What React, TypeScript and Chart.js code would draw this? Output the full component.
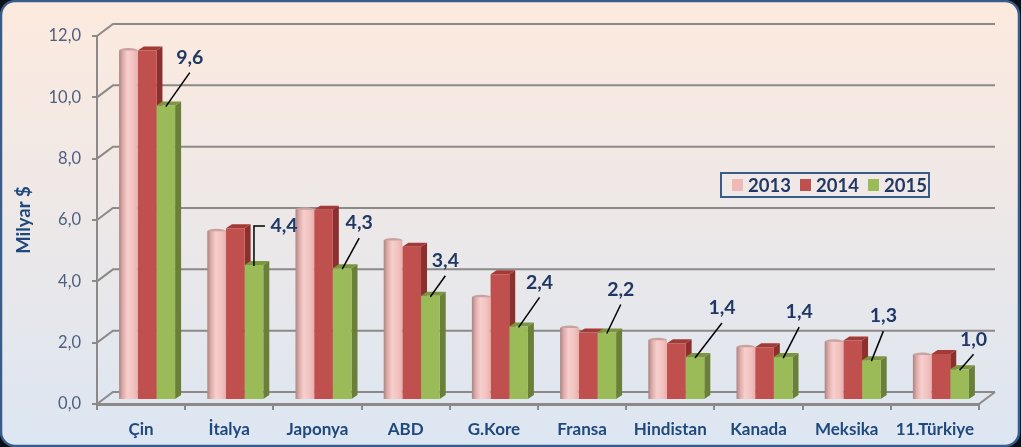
import React, { useEffect, useRef } from "react";
import { Chart, registerables } from "chart.js";

Chart.register(...registerables);

const categories = ["Çin", "İtalya", "Japonya", "ABD", "G.Kore", "Fransa", "Hindistan", "Kanada", "Meksika", "11.Türkiye"];
const series2013 = [11.4, 5.5, 6.2, 5.2, 3.35, 2.35, 1.95, 1.72, 1.9, 1.47];
const series2014 = [11.4, 5.6, 6.2, 5.0, 4.1, 2.2, 1.85, 1.72, 1.94, 1.5];
const series2015 = [9.6, 4.4, 4.3, 3.4, 2.4, 2.2, 1.4, 1.4, 1.3, 1.0];
const seriesNames = ["2013", "2014", "2015"];
const valueLabels = ["9,6", "4,4", "4,3", "3,4", "2,4", "2,2", "1,4", "1,4", "1,3", "1,0"];

// leader-line layout for each green bar label: label centre relative to bar top centre
const labelDx = [24, 30, 17, 15, 21, 14, 27, 16, 12, 14];
const labelDy = [-48, -39, -45, -35, -44, -43, -49, -45, -44, -30];

const NAVY = "#1f3864";
const AXIS_BLUE = "#1f497d";
const GRID = "#8c8a88";
const DX = 16, DY = 12; // depth of the back wall
const BX = 6, BY = 4; // offset of the bar plane
const BD = 6, BU = 4; // depth of a bar

const sideColors = ["#b58e8c", "#8c2f2d", "#6a7f37"];
const topColors = ["#c9a19f", "#a23a37", "#7d9441"];
const frontColors = ["#efb9b7", "#c0504d", "#9bbb59"];

const pinkGrad = (ctx: CanvasRenderingContext2D, l: number, r: number) => {
  const g = ctx.createLinearGradient(l, 0, r, 0);
  g.addColorStop(0, "#a98483");
  g.addColorStop(0.2, "#deabaa");
  g.addColorStop(0.45, "#f6cfcd");
  g.addColorStop(0.8, "#f2c0be");
  g.addColorStop(1, "#e6b0ae");
  return g;
};

const scene = {
  id: "scene",
  beforeDraw(chart: any) {
    const { ctx, width, height } = chart;
    ctx.save();
    ctx.fillStyle = "#0a0f1a";
    ctx.fillRect(0, 0, width, height);
    const g = ctx.createLinearGradient(0, 0, 0, height);
    g.addColorStop(0, "#fdeade");
    g.addColorStop(1, "#dce6f2");
    ctx.beginPath();
    ctx.roundRect(1, 1, width - 3, height - 2, 14);
    ctx.fillStyle = g;
    ctx.fill();
    ctx.lineWidth = 2.5;
    ctx.strokeStyle = "#385d8a";
    ctx.stroke();
    ctx.restore();
  },
  beforeDatasetsDraw(chart: any) {
    const { ctx, scales } = chart;
    const { x, y } = scales;
    ctx.save();
    ctx.strokeStyle = GRID;
    ctx.lineWidth = 2;
    // side wall, floor and back wall
    y.ticks.forEach((t: any) => {
      const py = y.getPixelForValue(t.value);
      ctx.beginPath();
      ctx.moveTo(x.left, py);
      ctx.lineTo(x.left + DX, py - DY);
      ctx.lineTo(x.right + DX, py - DY);
      ctx.stroke();
    });
    const y0 = y.getPixelForValue(0);
    ctx.beginPath();
    ctx.moveTo(x.right, y0);
    ctx.lineTo(x.right + DX, y0 - DY);
    ctx.stroke();
    ctx.restore();

    // the sides and tops of the bars, under the library's bar fronts
    ctx.save();
    ctx.translate(BX, -BY);
    const metas = [0, 1, 2].map((i) => chart.getDatasetMeta(i));
    for (let c = 0; c < categories.length; c++) {
      metas.forEach((m: any, i: number) => {
        const el = m.data[c];
        const l = el.x - el.width / 2, r = el.x + el.width / 2, t = el.y, b = el.base;
        if (i > 0) {
          ctx.fillStyle = sideColors[i];
          ctx.beginPath();
          ctx.moveTo(r, t); ctx.lineTo(r + BD, t - BU); ctx.lineTo(r + BD, b - BU); ctx.lineTo(r, b);
          ctx.closePath(); ctx.fill();
        }
        ctx.fillStyle = topColors[i];
        if (i === 0) {
          ctx.beginPath();
          ctx.ellipse((l + r) / 2, t, el.width / 2, 2.5, 0, 0, Math.PI * 2);
          ctx.fill();
        } else {
          ctx.beginPath();
          ctx.moveTo(l, t); ctx.lineTo(l + BD, t - BU); ctx.lineTo(r + BD, t - BU); ctx.lineTo(r, t);
          ctx.closePath(); ctx.fill();
        }
      });
    }
    ctx.restore();
    ctx.save();
    ctx.translate(BX, -BY);
  },
  afterDatasetsDraw(chart: any) {
    const { ctx } = chart;
    ctx.restore();
    // leader lines and value labels for the last series
    const meta = chart.getDatasetMeta(2);
    ctx.save();
    meta.data.forEach((el: any, i: number) => {
      const bx = el.x + BX, by = el.y - BY;
      const lx = bx + labelDx[i], ly = by + labelDy[i];
      ctx.strokeStyle = "#000000";
      ctx.lineWidth = 1.5;
      ctx.beginPath();
      ctx.moveTo(bx, by + 1);
      if (i === 1) {
        ctx.lineTo(bx, ly);
        ctx.lineTo(lx - 19, ly);
      } else {
        ctx.lineTo(lx, ly + 15);
      }
      ctx.stroke();
      ctx.fillStyle = NAVY;
      ctx.font = "bold 19.5px Lato";
      ctx.textAlign = "center";
      ctx.textBaseline = "middle";
      ctx.fillText(valueLabels[i], lx, ly);
    });
    ctx.restore();

    // legend box
    const left = 721, top = 173, w = 208, h = 24;
    ctx.save();
    ctx.strokeStyle = "#385d8a";
    ctx.lineWidth = 2;
    ctx.strokeRect(left, top, w, h);
    ctx.font = "bold 18.5px Lato";
    ctx.textBaseline = "middle";
    ctx.textAlign = "left";
    seriesNames.forEach((name, i) => {
      const sx = left + 11 + i * 68;
      ctx.fillStyle = i === 0 ? "#efb9b7" : frontColors[i];
      ctx.fillRect(sx, top + 6, 11, 12);
      ctx.fillStyle = NAVY;
      ctx.fillText(name, sx + 16, top + 13);
    });
    ctx.restore();
  },
};

export default function App() {
  const ref = useRef<HTMLCanvasElement>(null);
  useEffect(() => {
    if (!ref.current) return;
    const makeSet = (label: string, data: number[], i: number) => ({
      label,
      data,
      clip: false,
      backgroundColor: (c: any) => {
        if (i !== 0 || c.dataIndex === undefined) return frontColors[i];
        const x = c.chart.scales.x;
        if (!x) return frontColors[i];
        const step = (x.right - x.left) / categories.length;
        const mid = x.getPixelForValue(c.dataIndex);
        if (!Number.isFinite(mid) || !Number.isFinite(step)) return frontColors[i];
        const w = step * 0.635;
        return pinkGrad(c.chart.ctx, mid - w / 2, mid - w / 6);
      },
      borderWidth: 0,
      categoryPercentage: 0.635,
      barPercentage: 1,
    });
    const chart = new Chart(ref.current, {
      type: "bar",
      data: {
        labels: categories,
        datasets: [
          makeSet(seriesNames[0], series2013, 0),
          makeSet(seriesNames[1], series2014, 1),
          makeSet(seriesNames[2], series2015, 2),
        ],
      },
      plugins: [scene],
      options: {
        animation: false,
        responsive: false,
        layout: { padding: { left: 0, top: 36, right: 42, bottom: 0 } },
        plugins: { legend: { display: false }, tooltip: { enabled: false }, title: { display: false } },
        scales: {
          x: {
            grid: { display: true, drawOnChartArea: false, drawTicks: true, tickLength: 6, color: GRID, lineWidth: 2, offset: true },
            border: { display: true, color: GRID, width: 3 },
            ticks: { color: AXIS_BLUE, font: { family: "Lato", size: 17, weight: "bold" }, padding: 9, maxRotation: 0, autoSkip: false },
            afterFit: (s: any) => { s.height = 43; },
          },
          y: {
            min: 0,
            max: 12,
            grid: { display: true, drawOnChartArea: false, drawTicks: true, tickLength: 5, color: GRID, lineWidth: 2 },
            border: { display: true, color: GRID, width: 2 },
            ticks: {
              stepSize: 2,
              color: "#4f5f7f",
              font: { family: "Lato", size: 16.5 },
              padding: 11,
              callback: (v: any) => Number(v).toFixed(1).replace(".", ","),
            },
            title: { display: true, text: "Milyar $", color: AXIS_BLUE, font: { family: "Lato", size: 18.5, weight: "bold" }, padding: { top: 13, bottom: 8 } },
            afterFit: (s: any) => { s.width = 97; },
          },
        },
      },
    } as any);
    return () => chart.destroy();
  }, []);
  return (
    <div style={{ position: "fixed", left: 0, top: 0, width: 1021, height: 447 }}>
      <canvas ref={ref} width={1021} height={447} style={{ display: "block" }} />
    </div>
  );
}
